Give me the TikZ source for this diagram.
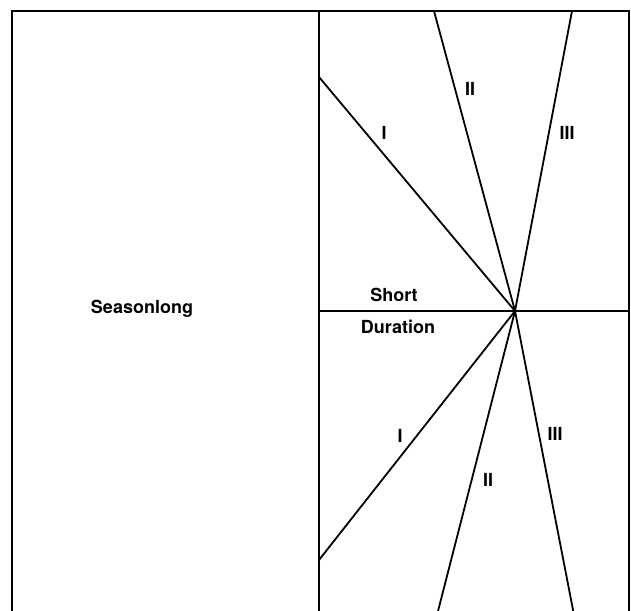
\documentclass[tikz,border=0pt]{standalone}
\usepackage{fontspec}
\setmainfont{TeX Gyre Heros}
\usepackage{tikz}
\usetikzlibrary{calc}

\begin{document}
\begin{tikzpicture}[
    x=1pt, y=-1pt,
    every node/.style={font=\fontsize{18}{21}\selectfont\bfseries, inner sep=0pt},
    frame/.style={line width=1.7pt, black},
    ray/.style={line width=1.8pt, black},
    numeral/.style={anchor=center},
  ]

  \useasboundingbox (0, 0) rectangle (631, 610);
  \clip (0, 0) rectangle (631, 610);

  % Frame corners and the hub where the rays meet
  \coordinate (tl) at (12, 11);
  \coordinate (bl) at (12, 615);
  \coordinate (tm) at (319, 11);
  \coordinate (bm) at (319, 615);
  \coordinate (tr) at (629, 11);
  \coordinate (br) at (629, 615);
  \coordinate (ml) at (319, 311);
  \coordinate (mr) at (629, 311);
  \coordinate (hub) at (515, 311);

  % Ray ends on the frame
  \coordinate (upI) at (319, 77);
  \coordinate (upII) at (434, 11);
  \coordinate (upIII) at (572, 11);
  \coordinate (loI) at (319, 560);
  \coordinate (loII) at (437, 615);
  \coordinate (loIII) at (574, 615);

  % --- Frame ---
  \draw[frame] (bl) -- (tl) -- (tr) -- (br);
  \draw[frame] (tm) -- (bm);
  \draw[frame] (ml) -- (mr);

  % --- Rays through the hub ---
  \draw[ray] (upI) -- (hub);
  \draw[ray] (upII) -- (hub);
  \draw[ray] (upIII) -- (hub);
  \draw[ray] (loI) -- (hub);
  \draw[ray] (loII) -- (hub);
  \draw[ray] (loIII) -- (hub);

  % --- Labels ---
  \node (season) at (142, 309) {Seasonlong};
  \node (short) at (394, 295) {Short};
  \node (duration) at (398, 327) {Duration};

  \node[numeral] (upIlab) at (384, 133) {I};
  \node[numeral] (upIIlab) at (470, 89) {II};
  \node[numeral] (upIIIlab) at (567, 133) {III};
  \node[numeral] (loIlab) at (400, 436) {I};
  \node[numeral] (loIIlab) at (488, 480) {II};
  \node[numeral] (loIIIlab) at (555, 434) {III};

\end{tikzpicture}
\end{document}
